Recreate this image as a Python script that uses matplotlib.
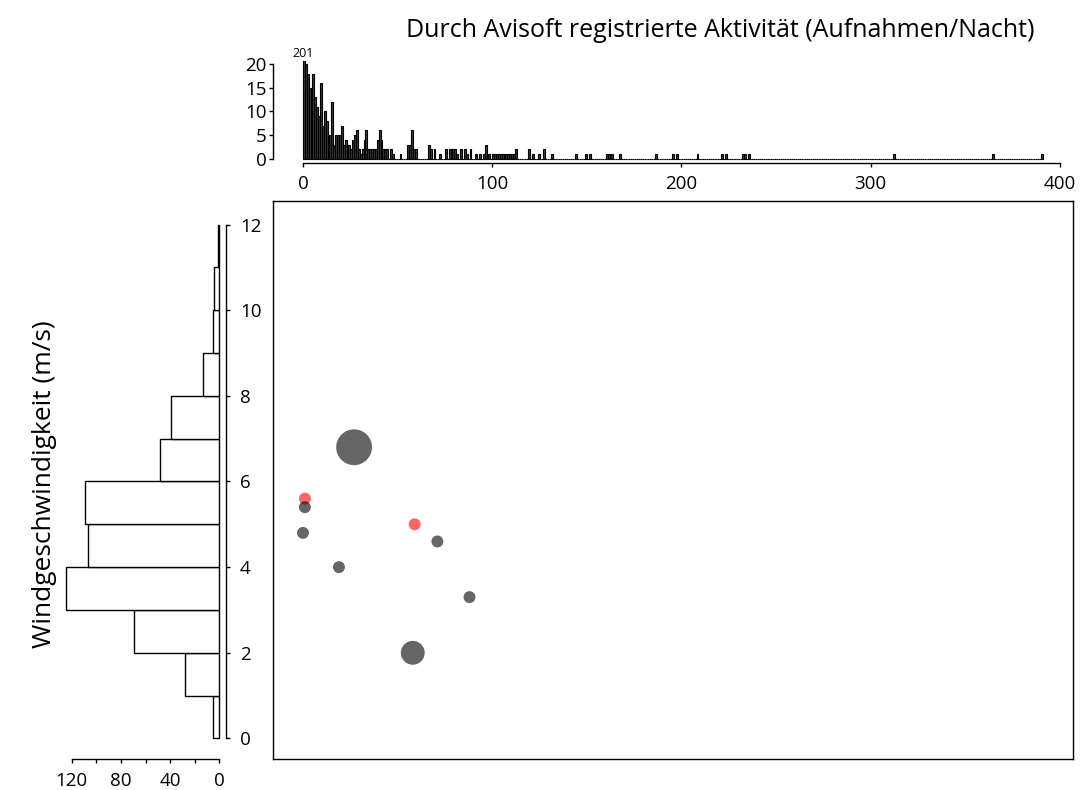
import matplotlib
matplotlib.use('Agg')
import matplotlib.pyplot as plt
import numpy as np

plt.rcParams['font.family'] = ['Open Sans', 'DejaVu Sans']

# ---------------- data ----------------
# top histogram: activity (recordings/night) -> number of nights
act_x = [0, 1, 2, 3, 4, 5, 6, 7, 8, 9, 10, 11, 12, 13, 14, 15, 16, 17, 18, 19,
         20, 21, 22, 23, 24, 25, 26, 27, 28, 29, 30, 31, 32, 33, 34, 35, 36, 37, 38, 39,
         40, 41, 42, 43, 44, 46, 47, 51, 55, 56, 57, 58, 59, 66, 67, 69, 72, 75, 77,
         78, 79, 80, 81, 83, 85, 86, 88, 91, 93, 95, 96, 98,
         100, 101, 102, 103, 104, 105, 106, 107, 108, 109, 110, 111, 112,
         119, 121, 124, 127, 131, 144, 149, 151, 160, 161, 163, 167, 186, 195, 197,
         208, 221, 223, 232, 233, 235, 312, 364, 390]
act_n = [201, 20, 18, 15, 14, 18, 13, 11, 9, 16, 7, 10, 8, 5, 5, 12, 3, 5, 5, 5,
         7, 3, 4, 3, 3, 2, 4, 5, 6, 2, 1, 2, 4, 6, 2, 2, 2, 2, 2, 4,
         6, 4, 2, 2, 2, 2, 1, 1, 3, 3, 6, 2, 2, 3, 2, 2, 1, 2, 2,
         2, 2, 2, 1, 2, 2, 1, 2, 1, 1, 1, 3, 1,
         1, 1, 1, 1, 1, 1, 1, 1, 1, 1, 1, 1, 2,
         2, 1, 1, 2, 1, 1, 1, 1, 1, 1, 1, 1, 1, 1, 1,
         1, 1, 1, 1, 1, 1, 1, 1, 1]

# left histogram: wind speed classes (m/s) -> number of nights
wind_bins = [0, 1, 2, 3, 4, 5, 6, 7, 8, 9, 10, 11]
wind_n = [5, 28, 69, 125, 107, 109, 48, 39, 13, 5, 4, 1]

# scatter: mean activity vs wind speed
pt_x = [27, 1, 1, 0, 59, 71, 19, 88, 58]
pt_y = [6.8, 5.6, 5.4, 4.8, 5.0, 4.6, 4.0, 3.3, 2.0]
pt_n = [3, 1, 1, 1, 1, 1, 1, 1, 2]
pt_red = [False, True, False, False, True, False, False, False, False]

title = "Durch Avisoft registrierte Aktivität (Aufnahmen/Nacht)"
ylabel = "Windgeschwindigkeit (m/s)"

# ---------------- figure ----------------
W, H = 1086, 790
fig = plt.figure(figsize=(W / 100, H / 100), dpi=100)


def ax_at(l, t, r, b):
    return fig.add_axes([l / W, 1 - b / H, (r - l) / W, (b - t) / H])


XLIM = (-15.64, 406.64)
YLIM = (-0.48, 12.55)
FS = 13.5
LW = 1.0

# ---- top histogram ----
axt = ax_at(273.4, 60.5, 1072.5, 162.5)
nb = max(act_x) + 1
counts = np.zeros(nb)
counts[np.array(act_x)] = act_n
axt.bar(np.arange(nb), counts, width=1, align='edge', facecolor='#3a3a3a',
        edgecolor='black', linewidth=0.8)
axt.set_xlim(XLIM)
axt.set_ylim(-0.8, 20.8)
axt.text(0.2, 20.9, str(int(counts[0])), ha='center', va='bottom', fontsize=9)
for s in ('top', 'right'):
    axt.spines[s].set_visible(False)
axt.spines['left'].set_bounds(0, 20)
axt.spines['bottom'].set_bounds(0, 400)
axt.set_yticks([0, 5, 10, 15, 20])
axt.set_xticks([0, 100, 200, 300, 400])
axt.tick_params(axis='y', length=3, width=LW, pad=2, labelsize=FS)
axt.tick_params(axis='x', length=3, width=LW, pad=6, labelsize=FS)
for s in ('left', 'bottom'):
    axt.spines[s].set_linewidth(LW)

# ---- scatter ----
axs = ax_at(273.4, 201, 1072.5, 759)
cols = [(1, 0, 0, 0.6) if r else (0, 0, 0, 0.6) for r in pt_red]
sizes = [(8.6 * n) ** 2 for n in pt_n]
axs.scatter(pt_x, pt_y, s=sizes, c=cols, linewidths=0)
axs.set_xlim(XLIM)
axs.set_ylim(YLIM)
axs.set_xticks([])
axs.set_yticks([])
for s in axs.spines.values():
    s.set_linewidth(LW)

# ---- left histogram ----
axl = ax_at(46.6, 201, 226, 759)
axl.barh(wind_bins, wind_n, height=1, align='edge', color='white',
         edgecolor='black', linewidth=LW)
axl.set_xlim(140.4, -5.4)
axl.set_ylim(YLIM)
for s in ('top', 'left'):
    axl.spines[s].set_visible(False)
axl.spines['right'].set_bounds(0, 12)
axl.spines['bottom'].set_bounds(0, 120)
axl.spines['right'].set_linewidth(LW)
axl.spines['bottom'].set_linewidth(LW)
axl.yaxis.tick_right()
axl.set_yticks([0, 2, 4, 6, 8, 10, 12])
axl.set_xticks([0, 20, 40, 60, 80, 100, 120])
axl.set_xticklabels(['0', '', '40', '', '80', '', '120'])
axl.tick_params(axis='y', length=3, width=LW, pad=7, labelsize=FS)
axl.tick_params(axis='x', length=3, width=LW, pad=6, labelsize=FS)

# ---- texts ----
fig.text(1035 / W, 1 - 37 / H, title, ha='right', va='baseline', fontsize=18)
fig.text(45 / W, 1 - 484 / H, ylabel, rotation=90, ha='center', va='center', fontsize=19)

fig.savefig('out.png', dpi=100)
